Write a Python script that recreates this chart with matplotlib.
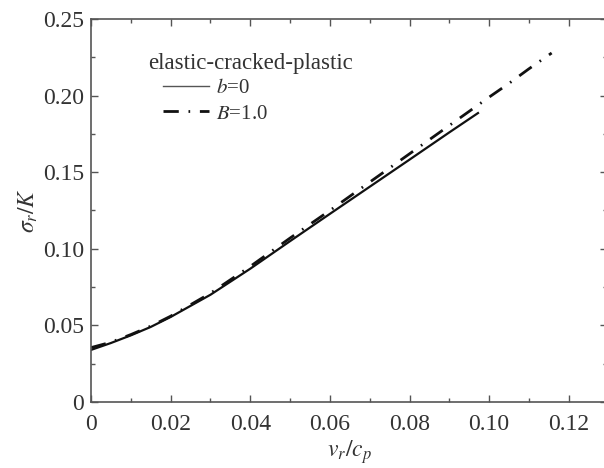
import matplotlib
matplotlib.use("Agg")
import matplotlib.pyplot as plt
from matplotlib.ticker import MultipleLocator

plt.rcParams["font.family"] = ["Liberation Serif", "DejaVu Serif"]
plt.rcParams["mathtext.fontset"] = "stix"

# velocity ratio vr/cp and normalized stress sigma_r/K
x_b0 = [0, 0.005, 0.01, 0.015, 0.02, 0.03, 0.04, 0.05, 0.06, 0.07, 0.08, 0.09, 0.0972]
y_b0 = [0.0340, 0.0385, 0.0435, 0.0490, 0.0555, 0.0700, 0.0870, 0.1050, 0.1228,
        0.1405, 0.1582, 0.1760, 0.1886]

x_B1 = [0, 0.005, 0.01, 0.015, 0.02, 0.03, 0.04, 0.05, 0.06, 0.07, 0.08, 0.09,
        0.10, 0.105, 0.110, 0.1157]
y_B1 = [0.0355, 0.0390, 0.0440, 0.0495, 0.0560, 0.0710, 0.0885, 0.1070, 0.1250,
        0.1435, 0.1620, 0.1805, 0.1990, 0.2080, 0.2175, 0.2278]

xticks = [0, 0.02, 0.04, 0.06, 0.08, 0.10, 0.12]
xtick_labels = ["0", "0.02", "0.04", "0.06", "0.08", "0.10", "0.12"]
yticks = [0, 0.05, 0.10, 0.15, 0.20, 0.25]
ytick_labels = ["0", "0.05", "0.10", "0.15", "0.20", "0.25"]

ink = "#333333"
axis_col = "#555555"

fig = plt.figure(figsize=(6.04, 4.68), dpi=100)
ax = fig.add_axes([91 / 604, 1 - 402 / 468, 516 / 604, 383 / 468])

ax.plot(x_b0, y_b0, color="#111111", lw=1.6, label=r"$b$=0")
ax.plot(x_B1, y_B1, color="#111111", lw=2.0, dashes=(5.5, 3.5, 0.6, 3.5),
        label=r"$B$=1.0")

ax.set_xlim(0, 0.1296)
ax.set_ylim(0, 0.25)
ax.set_xticks(xticks)
ax.set_xticklabels(xtick_labels)
ax.set_yticks(yticks)
ax.set_yticklabels(ytick_labels)
ax.xaxis.set_minor_locator(MultipleLocator(0.01))
ax.yaxis.set_minor_locator(MultipleLocator(0.025))

ax.tick_params(which="both", direction="in", top=True, right=True,
               color=axis_col, labelcolor=ink, labelsize=17, width=1.0)
ax.tick_params(which="major", length=5)
ax.tick_params(axis="x", which="major", pad=9)
ax.tick_params(axis="y", which="major", pad=5)
ax.tick_params(which="minor", length=3)
for sp in ax.spines.values():
    sp.set_color(axis_col)
    sp.set_linewidth(1.2)

ax.set_xlabel(r"$v_r/c_p$", fontsize=17, color=ink, labelpad=2)
ax.set_ylabel(r"$\sigma_r/K$", fontsize=17, color=ink, labelpad=2)

# legend heading sits a little left of the legend rows
ax.text(0.110, 0.885, "elastic-cracked-plastic", transform=ax.transAxes,
        fontsize=16.5, color=ink, ha="left", va="center")
leg = ax.legend(loc="upper left", bbox_to_anchor=(0.14, 0.845), frameon=False,
                fontsize=15, handlelength=2.2, handletextpad=0.35,
                labelspacing=0.3, borderpad=0, borderaxespad=0)
leg.legend_handles[0].set_linewidth(1.0)
leg.legend_handles[0].set_color("#555555")
for t in leg.get_texts():
    t.set_color(ink)

fig.savefig("out.png", dpi=100)
